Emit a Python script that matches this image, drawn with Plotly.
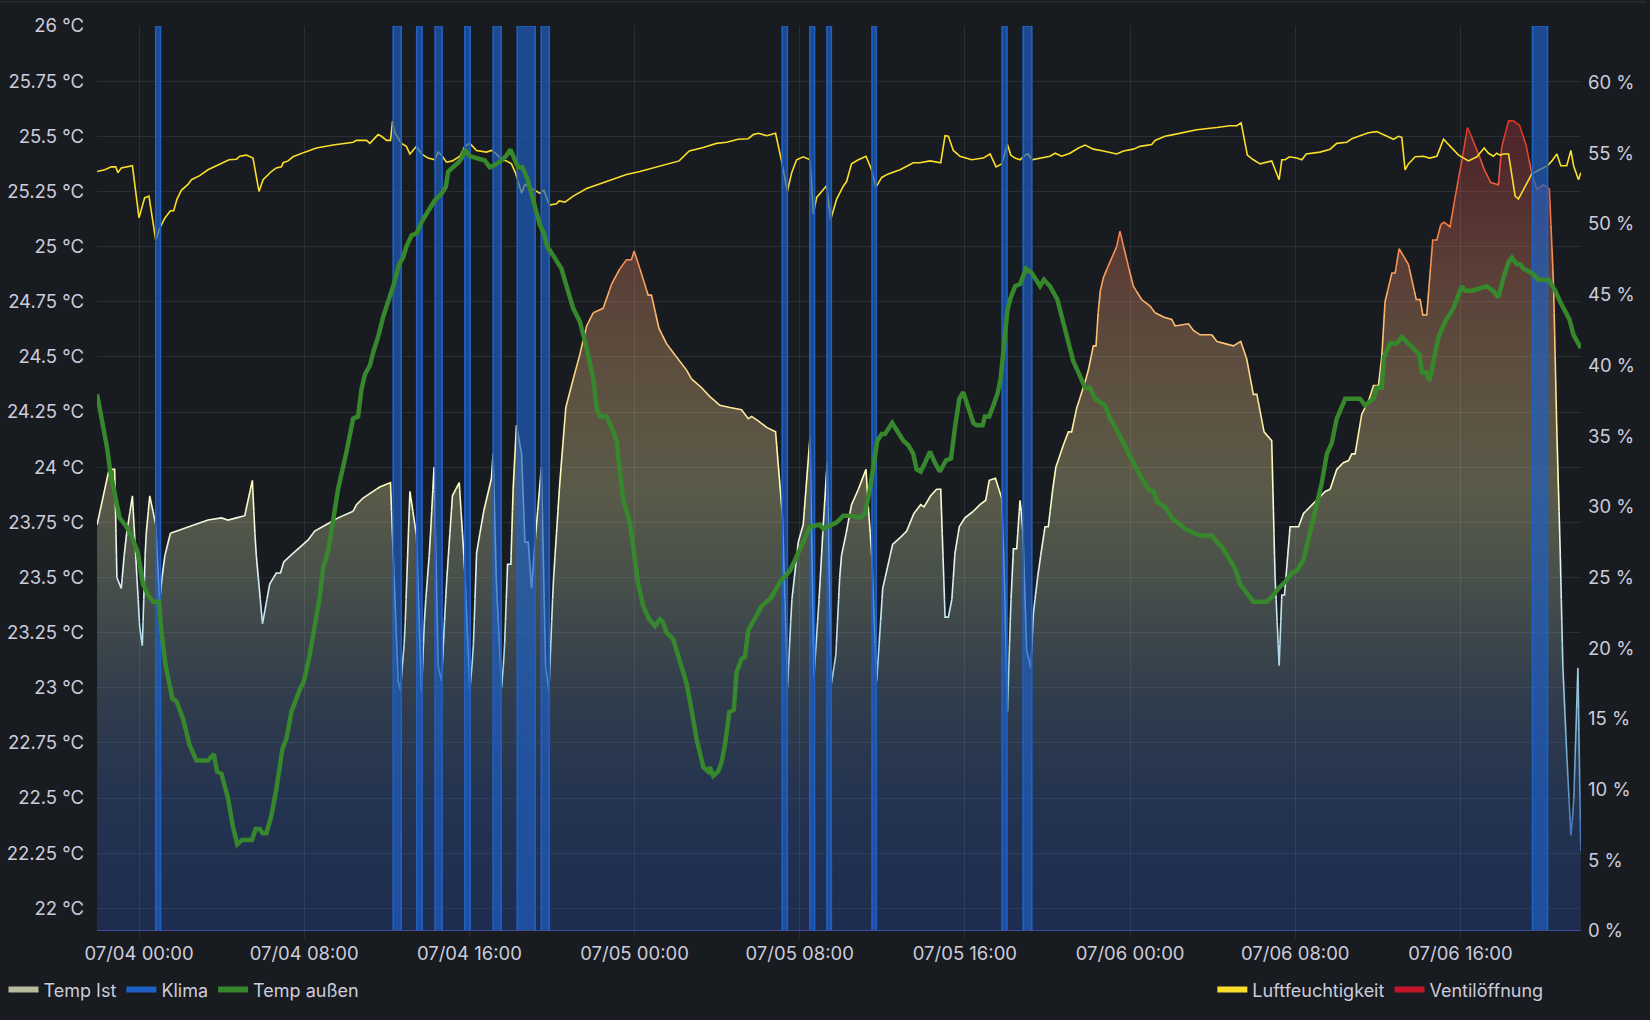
import numpy as np
import pandas as pd
import plotly.graph_objects as go

BASE = pd.Timestamp("2024-07-04 00:00:00")

# ---------------- data (hours relative to 07/04 00:00) ----------------
temp_ist_h = [-2.03, -1.45, -1.18, -1.07, -0.86, -0.65, -0.32, 0.03, 0.16, 0.32, 0.52, 0.81, 1.00, 1.20, 1.52,
              2.13, 2.78, 3.34, 3.99, 4.31, 4.72, 5.12, 5.49, 5.65, 5.98, 6.33, 6.65, 6.85, 7.01, 7.46, 7.95,
              8.19, 8.51, 9.08, 9.64, 10.37, 10.53, 10.85, 11.18, 11.66, 12.18, 12.55, 12.66, 12.87, 13.12,
              13.44, 13.68, 13.84, 14.08, 14.29, 14.49, 14.65, 14.89, 15.18, 15.51, 15.78, 16.02, 16.18, 16.35,
              16.67, 17.07, 17.15, 17.31, 17.56, 17.69, 17.85, 18.01, 18.12, 18.28, 18.53, 18.69, 18.85, 19.01,
              19.25, 19.49, 19.69, 19.85, 20.06, 20.38, 20.67, 21.03, 21.35, 21.68, 22.00, 22.48, 22.89, 23.29,
              23.61, 23.85, 23.98, 24.26, 24.66, 24.82, 25.18, 25.55, 25.95, 26.52, 26.76, 27.25, 27.65, 28.13,
              28.62, 29.18, 29.51, 29.67, 29.99, 30.40, 30.83, 31.17, 31.41, 31.61, 31.93, 32.17, 32.50, 32.69,
              32.95, 33.14, 33.33, 33.54, 33.75, 33.98, 34.27, 34.51, 34.84, 35.21, 35.32, 35.48, 35.73, 36.02,
              36.50, 36.86, 37.18, 37.53, 37.86, 38.02, 38.34, 38.63, 38.83, 39.04, 39.20, 39.36, 39.52, 39.73,
              40.00, 40.41, 40.73, 41.01, 41.18, 41.48, 41.78, 41.90, 42.06, 42.22, 42.35, 42.51, 42.67, 42.80,
              42.99, 43.19, 43.32, 43.56, 43.88, 44.04, 44.37, 44.69, 45.01, 45.17, 45.42, 45.74, 45.98, 46.22,
              46.35, 46.51, 46.71, 47.11, 47.35, 47.51, 47.84, 48.16, 48.56, 48.97, 49.21, 49.65, 50.02, 50.18,
              50.83, 51.07, 51.39, 51.96, 52.20, 52.60, 53.00, 53.36, 53.65, 53.97, 54.14, 54.49, 54.86, 55.02,
              55.22, 55.35, 55.48, 55.75, 56.16, 56.40, 56.72, 57.04, 57.45, 57.69, 58.01, 58.33, 58.58, 58.74,
              58.90, 59.22, 59.55, 59.79, 60.03, 60.19, 60.35, 60.68, 60.84, 61.03, 61.48, 61.86, 62.05, 62.18,
              62.37, 62.66, 62.86, 63.05, 63.21, 63.50, 63.83, 64.07, 64.34, 64.76, 65.15, 65.47, 65.84, 66.00,
              66.33, 66.57, 66.86, 67.18, 67.46, 67.70, 68.02, 68.31, 68.51, 68.67, 68.83, 68.96, 69.15, 69.35,
              69.48, 69.69, 69.83]
temp_ist_c = [23.74, 23.99, 23.99, 23.50, 23.45, 23.67, 23.87, 23.28, 23.19, 23.67, 23.87, 23.74, 23.39, 23.58, 23.70,
              23.72, 23.74, 23.76, 23.77, 23.76, 23.77, 23.78, 23.94, 23.63, 23.29, 23.47, 23.52, 23.52, 23.57, 23.61, 23.65,
              23.67, 23.71, 23.74, 23.77, 23.80, 23.83, 23.86, 23.88, 23.91, 23.93, 23.03, 22.99, 23.23, 23.89,
              23.69, 22.98, 23.34, 23.63, 24.00, 23.10, 23.03, 23.47, 23.87, 23.93, 23.53, 22.99, 23.15, 23.61,
              23.79, 23.95, 24.06, 23.47, 23.00, 23.15, 23.56, 23.56, 23.90, 24.19, 24.06, 23.66, 23.66, 23.45,
              23.74, 24.00, 23.10, 22.98, 23.47, 23.93, 24.27, 24.40, 24.51, 24.64, 24.70, 24.72, 24.83, 24.90,
              24.94, 24.94, 24.98, 24.90, 24.78, 24.78, 24.63, 24.56, 24.51, 24.44, 24.40, 24.36, 24.32, 24.28,
              24.27, 24.26, 24.22, 24.23, 24.21, 24.18, 24.16, 23.77, 23.00, 23.39, 23.66, 23.74, 24.14, 23.05,
              23.42, 23.74, 24.02, 23.02, 23.15, 23.58, 23.71, 23.83, 23.90, 23.99, 23.82, 23.62, 23.03, 23.45,
              23.65, 23.68, 23.71, 23.79, 23.83, 23.82, 23.87, 23.90, 23.90, 23.32, 23.32, 23.39, 23.61, 23.73,
              23.77, 23.80, 23.83, 23.85, 23.94, 23.95, 23.86, 23.55, 22.89, 23.37, 23.63, 23.63, 23.85, 23.74,
              23.17, 23.09, 23.34, 23.53, 23.73, 23.73, 23.99, 24.08, 24.16, 24.16, 24.27, 24.36, 24.44, 24.55,
              24.55, 24.78, 24.86, 24.95, 25.00, 25.07, 24.94, 24.82, 24.76, 24.73, 24.70, 24.68, 24.67, 24.64,
              24.65, 24.62, 24.60, 24.60, 24.57, 24.56, 24.55, 24.57, 24.49, 24.33, 24.33, 24.16, 24.12, 23.51,
              23.10, 23.42, 23.42, 23.73, 23.73, 23.79, 23.82, 23.85, 23.89, 23.90, 23.99, 24.02, 24.03, 24.06,
              24.06, 24.24, 24.30, 24.37, 24.37, 24.50, 24.75, 24.88, 24.88, 24.99, 24.92, 24.76, 24.76, 24.69,
              24.69, 25.03, 25.03, 25.10, 25.11, 25.09, 25.27, 25.39, 25.54, 25.45, 25.35, 25.29, 25.28, 25.45,
              25.57, 25.57, 25.55, 25.46, 25.33, 25.26, 25.28, 25.26, 24.83, 24.16, 23.63, 23.10, 22.70, 22.33,
              22.46, 23.09, 22.26]

temp_aussen_h = [-2.03, -1.91, -1.74, -1.55, -1.39, -1.18, -0.94, -0.61, -0.37, -0.05, 0.19, 0.44, 0.68, 0.97, 1.08,
                 1.29, 1.62, 1.81, 2.13, 2.45, 2.78, 3.34, 3.62, 3.78, 3.99, 4.31, 4.55, 4.76, 4.99, 5.47, 5.65,
                 5.85, 5.98, 6.17, 6.41, 6.65, 6.94, 7.14, 7.38, 7.78, 7.99, 8.27, 8.46, 8.75, 8.91, 9.16, 9.37,
                 9.64, 10.05, 10.37, 10.61, 10.77, 10.94, 11.18, 11.34, 11.58, 11.82, 12.07, 12.31, 12.60, 12.79,
                 12.95, 13.20, 13.44, 13.68, 14.00, 14.33, 14.65, 14.86, 14.97, 15.22, 15.46, 15.62, 15.78, 16.02,
                 16.35, 16.75, 16.99, 17.23, 17.56, 17.77, 17.99, 18.20, 18.36, 18.57, 18.80, 19.01, 19.25, 19.41,
                 19.61, 19.77, 20.06, 20.46, 20.71, 21.03, 21.35, 21.68, 22.00, 22.16, 22.32, 22.64, 22.89, 23.13,
                 23.29, 23.45, 23.77, 23.94, 24.18, 24.42, 24.71, 24.99, 25.23, 25.36, 25.55, 25.87, 26.12, 26.52,
                 26.76, 27.00, 27.33, 27.57, 27.65, 27.81, 28.05, 28.21, 28.38, 28.59, 28.81, 28.94, 29.18, 29.35,
                 29.51, 29.75, 30.15, 30.64, 31.04, 31.53, 31.85, 32.17, 32.50, 32.98, 33.14, 33.79, 34.11, 34.51,
                 34.92, 35.16, 35.40, 35.56, 35.76, 35.97, 36.13, 36.48, 36.78, 37.02, 37.26, 37.50, 37.66, 37.86,
                 38.07, 38.31, 38.55, 38.79, 39.08, 39.33, 39.52, 39.73, 39.92, 40.17, 40.41, 40.57, 40.86, 40.97,
                 41.18, 41.38, 41.57, 41.73, 41.89, 42.06, 42.19, 42.43, 42.67, 42.96, 43.24, 43.64, 43.83, 44.12,
                 44.48, 44.69, 45.01, 45.25, 45.50, 45.82, 46.06, 46.30, 46.79, 47.03, 47.35, 47.76, 48.16, 48.56,
                 48.89, 49.13, 49.34, 49.69, 50.02, 50.29, 50.66, 50.91, 51.39, 51.96, 52.20, 52.44, 52.68, 53.09,
                 53.33, 53.65, 53.97, 54.62, 54.86, 55.19, 55.51, 55.83, 56.07, 56.40, 56.72, 57.04, 57.29, 57.53,
                 57.77, 58.01, 58.26, 58.42, 59.14, 59.38, 59.79, 59.95, 60.19, 60.30, 60.60, 60.92, 61.16, 61.48,
                 62.02, 62.13, 62.34, 62.50, 62.69, 62.94, 63.26, 63.66, 64.07, 64.23, 64.55, 65.28, 65.57, 65.84,
                 66.09, 66.33, 66.49, 66.73, 66.89, 67.06, 67.46, 67.78, 68.27, 68.59, 68.83, 69.07, 69.28, 69.48,
                 69.72, 69.83]
temp_aussen_c = [24.33, 24.27, 24.16, 24.09, 23.98, 23.87, 23.77, 23.73, 23.69, 23.61, 23.47, 23.42, 23.39, 23.39, 23.26,
                 23.10, 22.95, 22.94, 22.86, 22.74, 22.67, 22.67, 22.70, 22.62, 22.61, 22.50, 22.37, 22.29, 22.31, 22.31, 22.36,
                 22.36, 22.34, 22.34, 22.42, 22.54, 22.72, 22.77, 22.89, 22.99, 23.03, 23.15, 23.26, 23.41, 23.54, 23.62, 23.74,
                 23.90, 24.07, 24.22, 24.23, 24.35, 24.42, 24.46, 24.52, 24.59, 24.68, 24.75, 24.82, 24.92, 24.95,
                 25.00, 25.05, 25.06, 25.11, 25.16, 25.21, 25.24, 25.27, 25.34, 25.36, 25.38, 25.40, 25.44, 25.41,
                 25.40, 25.39, 25.36, 25.37, 25.39, 25.41, 25.44, 25.40, 25.36, 25.36, 25.31, 25.24, 25.16, 25.10,
                 25.06, 25.00, 24.96, 24.90, 24.82, 24.72, 24.66, 24.54, 24.40, 24.27, 24.23, 24.23, 24.18, 24.12,
                 23.98, 23.85, 23.75, 23.62, 23.47, 23.37, 23.31, 23.28, 23.31, 23.30, 23.25, 23.22, 23.14, 23.02,
                 22.90, 22.77, 22.64, 22.62, 22.64, 22.60, 22.62, 22.66, 22.74, 22.89, 22.90, 23.07, 23.13, 23.14,
                 23.26, 23.30, 23.37, 23.41, 23.48, 23.53, 23.59, 23.66, 23.73, 23.74, 23.72, 23.75, 23.78, 23.78,
                 23.77, 23.79, 23.90, 24.00, 24.12, 24.15, 24.15, 24.20, 24.15, 24.12, 24.10, 24.06, 23.99, 23.98,
                 24.02, 24.07, 24.02, 23.98, 24.03, 24.04, 24.18, 24.31, 24.34, 24.27, 24.20, 24.19, 24.19, 24.23,
                 24.23, 24.28, 24.33, 24.40, 24.54, 24.71, 24.76, 24.82, 24.83, 24.90, 24.88, 24.82, 24.85, 24.82,
                 24.76, 24.68, 24.56, 24.48, 24.43, 24.36, 24.36, 24.31, 24.28, 24.22, 24.17, 24.09, 24.02, 23.95,
                 23.90, 23.89, 23.84, 23.82, 23.77, 23.75, 23.72, 23.71, 23.69, 23.69, 23.66, 23.64, 23.60, 23.54,
                 23.47, 23.43, 23.39, 23.39, 23.41, 23.45, 23.48, 23.52, 23.53, 23.58, 23.71, 23.85, 23.93, 24.06,
                 24.11, 24.22, 24.28, 24.31, 24.31, 24.28, 24.31, 24.36, 24.36, 24.50, 24.56, 24.56, 24.59, 24.56,
                 24.51, 24.43, 24.43, 24.39, 24.47, 24.59, 24.66, 24.72, 24.82, 24.80, 24.80, 24.82, 24.80, 24.77,
                 24.86, 24.93, 24.95, 24.92, 24.92, 24.90, 24.88, 24.85, 24.85, 24.80, 24.75, 24.71, 24.67, 24.60,
                 24.56, 24.54]

humidity_h = [-2.03, -1.66, -1.34, -1.13, -1.02, -0.86, -0.32, 0.00, 0.27, 0.48, 0.81, 1.00, 1.24, 1.52, 1.68, 1.84,
              2.05, 2.37, 2.54, 2.94, 3.34, 3.91, 4.36, 4.72, 4.88, 5.20, 5.52, 5.81, 6.01, 6.41, 6.65, 6.90, 6.98,
              7.22, 7.46, 8.03, 8.59, 9.40, 10.37, 10.53, 11.02, 11.18, 11.58, 11.74, 11.99, 12.18, 12.28, 12.39,
              12.71, 12.95, 13.12, 13.44, 13.68, 14.00, 14.33, 14.49, 14.65, 14.89, 15.18, 15.54, 15.78, 16.02,
              16.35, 16.83, 17.07, 17.31, 17.56, 17.80, 18.04, 18.23, 18.36, 18.53, 18.69, 18.93, 19.25, 19.41,
              19.61, 19.87, 20.22, 20.35, 20.63, 21.03, 21.68, 22.48, 23.13, 23.61, 24.26, 24.90, 25.55, 26.16,
              26.65, 27.33, 27.97, 28.46, 29.02, 29.51, 29.75, 30.00, 30.40, 30.83, 31.12, 31.40, 31.61, 31.85,
              32.17, 32.50, 32.66, 32.82, 33.30, 33.50, 33.79, 34.11, 34.27, 34.51, 34.84, 35.21, 35.48, 35.69,
              35.97, 36.29, 36.86, 37.50, 37.82, 38.31, 38.83, 39.04, 39.20, 39.44, 39.76, 40.33, 40.89, 41.22,
              41.51, 41.78, 42.06, 42.22, 42.43, 42.67, 42.91, 43.07, 43.24, 43.64, 44.12, 44.37, 44.69, 45.09,
              45.50, 45.82, 46.22, 46.71, 47.35, 47.68, 48.16, 48.48, 49.05, 49.21, 49.69, 50.10, 50.58, 51.23,
              52.20, 52.84, 53.17, 53.38, 53.68, 53.97, 54.30, 54.86, 55.22, 55.35, 55.51, 55.72, 56.07, 56.32,
              56.53, 57.20, 57.69, 58.01, 58.50, 58.74, 59.14, 59.55, 59.95, 60.27, 60.76, 61.00, 61.16, 61.32,
              61.48, 61.81, 62.21, 62.50, 62.86, 63.18, 63.50, 63.91, 64.39, 64.80, 65.15, 65.36, 65.60, 65.76,
              65.92, 66.09, 66.33, 66.65, 66.81, 67.14, 67.46, 68.22, 68.43, 68.67, 68.86, 69.15, 69.35, 69.48,
              69.72, 69.83]
humidity_pct = [53.71, 53.83, 54.04, 54.04, 53.63, 53.96, 54.12, 50.43, 51.84, 51.97, 48.85, 49.68, 50.39, 50.93, 50.93, 51.76,
                52.38, 52.80, 53.13, 53.42, 53.83, 54.25, 54.54, 54.58, 54.79, 54.87, 54.66, 52.30, 53.13, 53.71, 53.96, 54.04, 54.33,
                54.46, 54.75, 55.08, 55.37, 55.58, 55.78, 55.91, 55.91, 55.70, 56.32, 56.20, 55.91, 55.91, 57.28, 56.45,
                55.70, 55.49, 54.95, 55.49, 54.95, 54.66, 54.54, 55.08, 54.87, 54.37, 54.46, 54.79, 55.49, 55.70,
                55.20, 55.08, 55.20, 54.95, 54.54, 54.46, 54.25, 53.63, 53.00, 52.17, 52.80, 52.59, 52.30, 52.17,
                52.38, 51.34, 51.43, 51.63, 51.55, 51.97, 52.51, 52.92, 53.29, 53.50, 53.71, 53.96, 54.25, 54.46,
                55.16, 55.41, 55.70, 55.78, 55.99, 56.03, 56.32, 56.41, 56.24, 56.41, 54.46, 52.30, 53.63, 54.54,
                54.75, 54.54, 50.72, 51.88, 52.71, 50.31, 51.76, 52.67, 53.00, 54.25, 54.54, 54.79, 53.83, 52.59,
                53.29, 53.54, 53.83, 54.33, 54.33, 54.46, 54.33, 56.24, 56.20, 55.20, 54.79, 54.54, 54.66, 54.95,
                54.04, 54.25, 55.62, 54.87, 54.66, 54.54, 54.87, 54.95, 54.54, 54.66, 54.79, 55.00, 54.79, 55.00,
                55.37, 55.58, 55.29, 55.16, 54.95, 55.16, 55.29, 55.49, 55.62, 55.91, 56.20, 56.32, 56.45, 56.66,
                56.82, 56.95, 56.95, 57.15, 54.87, 54.54, 54.25, 54.46, 53.13, 54.54, 54.54, 54.75, 54.66, 54.54,
                54.95, 55.08, 55.29, 55.70, 55.78, 56.03, 56.24, 56.45, 56.53, 56.32, 55.99, 56.20, 56.12, 53.83,
                54.25, 54.75, 54.79, 54.66, 54.79, 55.99, 55.49, 54.87, 54.46, 54.75, 55.37, 55.00, 54.79, 55.00,
                54.87, 54.95, 54.95, 51.97, 51.76, 52.71, 53.54, 54.12, 54.46, 54.95, 54.12, 54.12, 55.20, 54.12,
                53.13, 53.63]

ventil_h = [-2.03, 6.0, 14.0, 22.0, 30.0, 38.0, 46.0, 54.0, 62.0, 69.83]
ventil_pct = [0, 0, 0, 0, 0, 0, 0, 0, 0, 0]

klima_on = [0.81, 12.31, 13.45, 14.34, 15.78, 17.15, 18.32, 19.48, 31.15, 32.49, 33.32, 35.50, 41.80, 42.82, 67.49]
klima_off = [1.04, 12.70, 13.71, 14.68, 16.04, 17.54, 19.19, 19.87, 31.40, 32.72, 33.53, 35.71, 42.04, 43.24, 68.22]

x_range_h = [-2.035, 69.84]
temp_range = [21.897, 26.0]
hum_range = [0, 64]

# ---------------- helpers ----------------
def ts(hours):
    return [None if h is None else (BASE + pd.Timedelta(hours=float(h))).strftime("%Y-%m-%d %H:%M:%S")
            for h in hours]

SCHEME = ["#313695", "#4575b4", "#74add1", "#abd9e9", "#e0f3f8", "#ffffbf",
          "#fee090", "#fdae61", "#f46d43", "#d73027", "#a50026"]
CMIN, CMAX = 21.9, 26.0


def hex2rgb(h):
    return tuple(int(h[i:i + 2], 16) for i in (1, 3, 5))


def scheme_rgb(v):
    f = min(max((v - CMIN) / (CMAX - CMIN), 0.0), 1.0) * (len(SCHEME) - 1)
    i = min(int(f), len(SCHEME) - 2)
    r = f - i
    a, b = hex2rgb(SCHEME[i]), hex2rgb(SCHEME[i + 1])
    return tuple(int(round(a[k] + (b[k] - a[k]) * r)) for k in range(3))


# fill gradient (value -> base colour, drawn with alpha)
fill_vals = [21.9, 22.5, 23.0, 23.5, 23.9, 24.4, 24.9, 25.4, 26.0]
fill_rgb = [(44, 87, 191), (64, 107, 194), (111, 144, 181), (184, 204, 174), (244, 237, 168),
            (255, 204, 141), (244, 144, 108), (211, 70, 74), (191, 40, 61)]
FILL_ALPHA = 0.3
fill_scale = [[(v - fill_vals[0]) / (fill_vals[-1] - fill_vals[0]),
               "rgba(%d,%d,%d,%.2f)" % (c[0], c[1], c[2], FILL_ALPHA)] for v, c in zip(fill_vals, fill_rgb)]

BG = "#181b1f"
GRID = "rgba(204,204,220,0.10)"
TXT = "#ccccdc"
GREEN = "#37872D"
YELLOW = "#FADE2A"
RED = "#C4162A"
BLUE = "#1F60C4"

fig = go.Figure()

# Temp Ist: gradient fill
fig.add_trace(go.Scatter(
    x=ts(temp_ist_h), y=temp_ist_c, mode="none", fill="tozeroy",
    fillgradient=dict(type="vertical", colorscale=fill_scale, start=fill_vals[0], stop=fill_vals[-1]),
    showlegend=False, hoverinfo="skip", yaxis="y"))

# Temp Ist: line coloured by value (scheme), split into value bins
BIN0, BINW = 21.8, 0.1
edges = [BIN0 + BINW * k for k in range(0, 46)]
runs = {}
last_bin = None
pts = list(zip(temp_ist_h, temp_ist_c))
for (t0, v0), (t1, v1) in zip(pts, pts[1:]):
    cuts = [0.0, 1.0]
    lo, hi = min(v0, v1), max(v0, v1)
    for e in edges:
        if lo < e < hi:
            cuts.append((e - v0) / (v1 - v0))
    cuts.sort()
    for a, b in zip(cuts, cuts[1:]):
        ta, va = t0 + (t1 - t0) * a, v0 + (v1 - v0) * a
        tb, vb = t0 + (t1 - t0) * b, v0 + (v1 - v0) * b
        k = int(np.floor(((va + vb) / 2 - BIN0) / BINW))
        xs, ys = runs.setdefault(k, ([], []))
        if last_bin == k:
            xs.append(tb)
            ys.append(vb)
        else:
            if xs:
                xs.append(None)
                ys.append(None)
            xs += [ta, tb]
            ys += [va, vb]
        last_bin = k

for k, (xs, ys) in sorted(runs.items()):
    c = scheme_rgb(BIN0 + BINW * (k + 0.5))
    fig.add_trace(go.Scatter(
        x=ts(xs), y=ys, mode="lines", line=dict(color="rgb(%d,%d,%d)" % c, width=1.6),
        showlegend=False, hoverinfo="skip", yaxis="y", connectgaps=False))

# Luftfeuchtigkeit (right axis)
fig.add_trace(go.Scatter(
    x=ts(humidity_h), y=humidity_pct, mode="lines", line=dict(color=YELLOW, width=1.6),
    showlegend=False, yaxis="y2"))

# Ventilöffnung (right axis)
fig.add_trace(go.Scatter(
    x=ts(ventil_h), y=ventil_pct, mode="lines", line=dict(color=RED, width=1.6),
    showlegend=False, yaxis="y2"))

# Klima (0/1 state on hidden axis)
kx, ky = [x_range_h[0]], [0]
for s, e in zip(klima_on, klima_off):
    kx += [s, s, e, e]
    ky += [0, 1, 1, 0]
kx.append(x_range_h[1])
ky.append(0)
fig.add_trace(go.Scatter(
    x=ts(kx), y=ky, mode="lines", line=dict(color=BLUE, width=1.6),
    fill="tozeroy", fillcolor="rgba(31,96,196,0.68)", showlegend=False, yaxis="y3"))

# Temp außen (own overlaying axis so it is drawn on top)
fig.add_trace(go.Scatter(
    x=ts(temp_aussen_h), y=temp_aussen_c, mode="lines", line=dict(color=GREEN, width=4.5),
    showlegend=False, yaxis="y4"))

# legend entries
for name, col, lg in [("Temp Ist", "#b9bb9d", "legend"), ("Klima", BLUE, "legend"),
                      ("Temp außen", GREEN, "legend"), ("Luftfeuchtigkeit", YELLOW, "legend2"),
                      ("Ventilöffnung", RED, "legend2")]:
    fig.add_trace(go.Scatter(x=[None], y=[None], mode="lines", name=name,
                             line=dict(color=col, width=6), legend=lg, showlegend=True))

TICKFONT = dict(family="Inter, Roboto, sans-serif", size=18.5, color=TXT)
xr = ts(x_range_h)
fig.update_layout(
    width=1650, height=1020,
    paper_bgcolor=BG, plot_bgcolor=BG,
    font=dict(family="Inter, Roboto, sans-serif", size=18, color=TXT),
    margin=dict(l=97, r=69, t=26, b=89, pad=0, autoexpand=False),
    xaxis=dict(type="date", range=xr, tickformat="%m/%d %H:%M", dtick=8 * 3600 * 1000,
               tick0="2024-07-04 00:00:00", showgrid=True, gridcolor=GRID, gridwidth=1,
               zeroline=False, showline=False, ticks="outside", ticklen=6, tickcolor=GRID,
               ticklabelstandoff=0, automargin=False, tickfont=TICKFONT),
    yaxis=dict(range=temp_range, dtick=0.25, tick0=22, ticksuffix=" °C", showgrid=True,
               gridcolor=GRID, zeroline=False, showline=False, ticks="", ticklabelstandoff=12,
               automargin=False, tickfont=TICKFONT),
    yaxis2=dict(range=hum_range, dtick=5, tick0=0, ticksuffix=" %", overlaying="y", side="right",
                showgrid=False, zeroline=False, showline=False, ticks="", ticklabelstandoff=6,
                automargin=False, tickfont=TICKFONT),
    yaxis3=dict(range=[0, 1], overlaying="y", visible=False, fixedrange=True),
    yaxis4=dict(range=temp_range, overlaying="y", visible=False),
    legend=dict(orientation="h", x=-0.063, xanchor="left", y=-0.065, yanchor="middle",
                bgcolor="rgba(0,0,0,0)", font=dict(size=18, color=TXT), itemwidth=30),
    legend2=dict(orientation="h", x=0.978, xanchor="right", y=-0.065, yanchor="middle",
                 bgcolor="rgba(0,0,0,0)", font=dict(size=18, color=TXT), itemwidth=30),
    shapes=[dict(type="line", xref="paper", yref="paper", x0=-0.066, x1=1.044,
                 y0=1.0265, y1=1.0265, line=dict(color="rgba(204,204,220,0.15)", width=1))],
    hovermode=False,
)

fig.write_html("out.html")
